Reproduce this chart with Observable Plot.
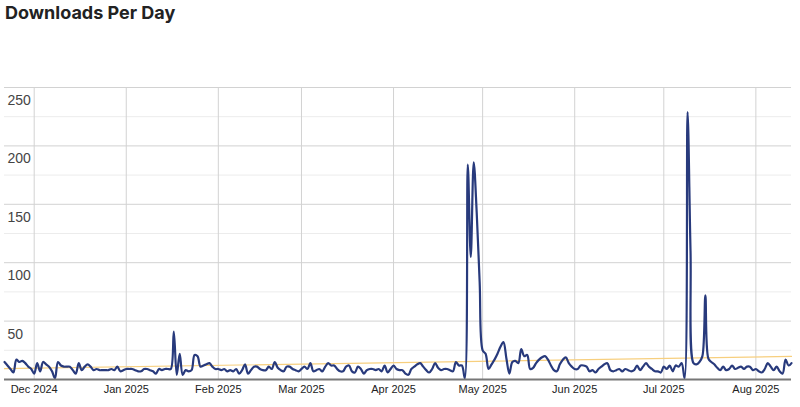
<!DOCTYPE html>
<html><head><meta charset="utf-8">
<script src="https://cdn.jsdelivr.net/npm/d3@7"></script>
<script src="https://cdn.jsdelivr.net/npm/@observablehq/plot@0.6"></script>
<style>
body{margin:0;background:#fff;}
#title{height:30px;padding-left:5px;font:700 18px Inter, "Liberation Sans", sans-serif;line-height:26px;color:#222;}
</style></head><body>
<div id="title">Downloads Per Day</div>
<div id="chart"></div>
<script>
const startDate = "2024-11-21";
const nov2024 = [15,12,9,6,17,15,16,14,11,9];
const dec2024 = [5,14,7,15,13,11,7,1,15,12,11,11,11,8,5,14,8,11,13,11,8,9,8,8,8,8,9,8,11,7,8];
const jan2025 = [9,9,9,8,7,7,9,9,8,7,5,9,8,9,9,9,41,4,22,4,8,7,8,21,20,11,12,13,14,11,9];
const feb2025 = [9,8,9,7,8,7,9,5,8,13,5,8,11,11,9,8,8,11,9,15,10,8,7,11,11,9,8,7];
const mar2025 = [9,11,9,14,7,8,9,7,11,14,12,12,9,7,7,11,12,7,6,11,9,5,8,9,9,8,9,7,12,6,9];
const apr2025 = [12,9,8,8,5,4,9,11,13,14,11,8,6,9,14,10,8,9,9,8,7,15,12,12,1,184,105,186,143,83];
const may2025 = [25,22,9,13,17,22,28,32,18,5,15,16,14,26,20,21,9,10,14,17,19,20,17,12,8,7,13,17,19,14,11];
const jun2025 = [9,9,12,12,11,7,8,6,9,11,13,14,8,7,8,9,7,9,8,7,8,12,8,11,14,11,9,7,7,6];
const jul2025 = [11,9,12,7,12,11,14,1,229,110,14,13,15,20,72,18,15,13,10,8,11,8,9,12,9,10,11,9,11,11,8];
const aug2025 = [9,7,6,9,14,11,8,11,7,5,17,12,14];

const monthTicks = ["2024-12-01","2025-01-01","2025-02-01","2025-03-01","2025-04-01","2025-05-01","2025-06-01","2025-07-01","2025-08-01"];
const yLabels = [50,100,150,200,250];
const yMinor = [25,75,125,175,225];

const counts = [].concat(nov2024, dec2024, jan2025, feb2025, mar2025, apr2025, may2025, jun2025, jul2025, aug2025);
const start = new Date(startDate);
const data = counts.map((v, i) => ({date: d3.utcDay.offset(start, i), downloads: v}));
const ticks = monthTicks.map(d => new Date(d));

const chart = Plot.plot({
  width: 800, height: 377,
  marginTop: 57, marginBottom: 28, marginLeft: 4, marginRight: 9,
  x: {type: "utc", domain: [data[0].date, data[data.length - 1].date], axis: null},
  y: {domain: [0, 250], axis: null},
  style: {fontFamily: "Arial, 'Liberation Sans', sans-serif", background: "#fff", overflow: "visible"},
  marks: [
    Plot.ruleY(yMinor, {stroke: "#ececec"}),
    Plot.ruleY(yLabels, {stroke: "#d2d2d2"}),
    Plot.ruleX(ticks, {stroke: "#d2d2d2"}),
    Plot.linearRegressionY(data, {x: "date", y: "downloads", stroke: "#f7cf7e", strokeWidth: 1.2, ci: 0}),
    Plot.line(data, {x: "date", y: "downloads", stroke: "#283a7c", strokeWidth: 2.2, curve: "catmull-rom"}),
    Plot.ruleY([0], {stroke: "#777", strokeWidth: 2}),
    Plot.axisX({ticks: ticks, tickFormat: d3.utcFormat("%b %Y"), tickSize: 0, tickPadding: 6, fontSize: 11, fill: "#222", label: null}),
    Plot.text(yLabels, {y: d => d, text: d => String(d), frameAnchor: "left", textAnchor: "start", dx: 3, dy: 13, fontSize: 14, fill: "#444"})
  ]
});
document.getElementById("chart").append(chart);
</script>
</body></html>
